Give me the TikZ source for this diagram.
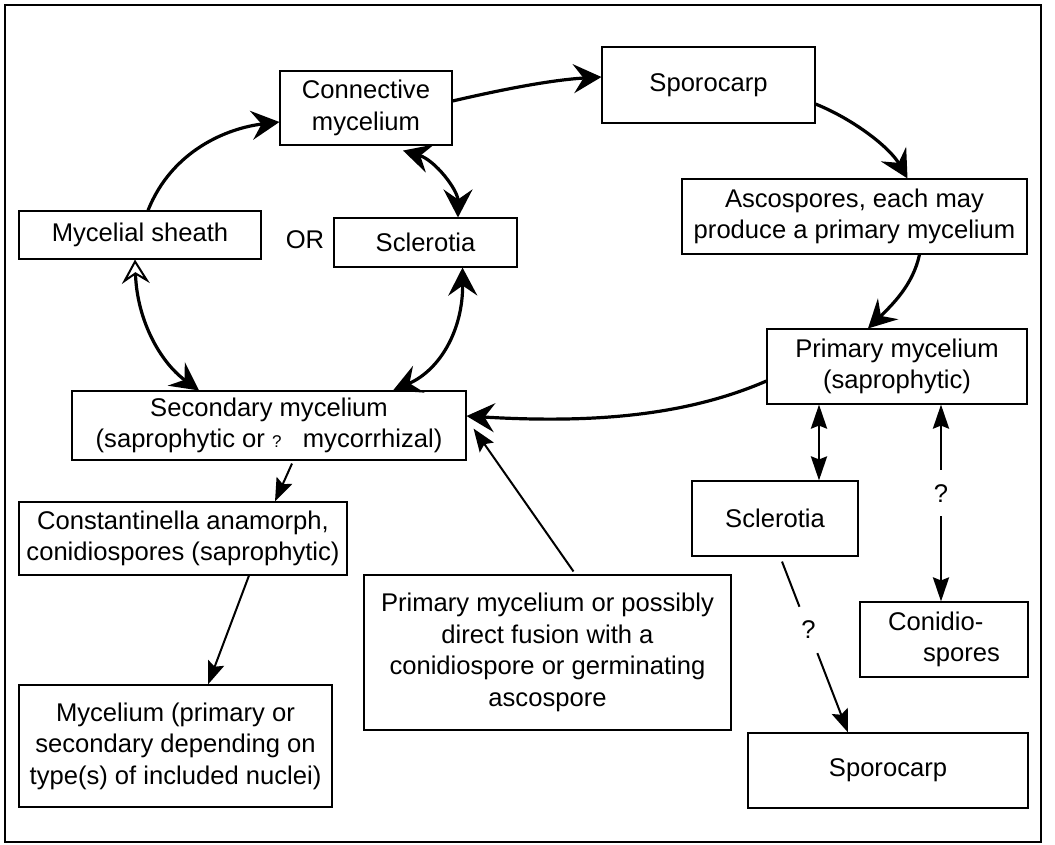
\documentclass[tikz,border=0pt]{standalone}
\usepackage{fontspec}
\setmainfont{Liberation Sans}
\usetikzlibrary{arrows.meta,calc}
\tikzset{
  box/.style={draw, line width=1.1pt, inner sep=0pt, align=center,
    font=\fontsize{25.6}{31.5}\selectfont},
  lbl/.style={inner sep=0pt, font=\fontsize{25.6}{31.5}\selectfont},
  qmark/.style={inner sep=0pt, minimum height=46pt, minimum width=20pt,
    font=\fontsize{25.6}{31.5}\selectfont},
  thick arrow/.style={line width=3.2pt},
  mid arrow/.style={line width=2.8pt},
  thin arrow/.style={line width=2pt},
  bigend/.style={-{Stealth[length=28pt,width=29pt,inset=10pt]}},
  bigboth/.style={{Stealth[length=28pt,width=29pt,inset=10pt]}-{Stealth[length=28pt,width=29pt,inset=10pt]}},
  openboth/.style={{Stealth[open,length=24pt,width=28pt,inset=9pt,line width=2pt]}-{Stealth[length=28pt,width=29pt,inset=10pt]}},
  midend/.style={-{Stealth[length=24pt,width=16pt,inset=3pt]}},
  midboth/.style={{Stealth[length=24pt,width=16pt,inset=3pt]}-{Stealth[length=24pt,width=16pt,inset=3pt]}},
  thinend/.style={-{Stealth[length=23pt,width=17pt,inset=4pt]}},
}
\begin{document}
\begin{tikzpicture}[x=1pt,y=-1pt]
\useasboundingbox (0,0) rectangle (1055,844);
\draw[line width=2pt] (5,5) rectangle (1041,842);

% boxes
\node[box, minimum width=172pt, minimum height=74pt] (conn) at (366,108) {Connective\\mycelium};
\node[box, minimum width=213pt, minimum height=76pt] (spor1) at (708.5,85) {Sporocarp};
\node[box, minimum width=345pt, minimum height=75pt] (asco) at (854.5,216.5) {Ascospores, each may\\produce a primary mycelium};
\node[box, minimum width=242pt, minimum height=48pt] (sheath) at (140,235) {Mycelial sheath};
\node[lbl] (or) at (305,240) {OR};
\node[box, minimum width=183pt, minimum height=49pt] (scl1) at (425.5,242.5) {Sclerotia};
\node[box, minimum width=394pt, minimum height=69pt] (sec) at (269,425.5) {Secondary mycelium\\(saprophytic or {\fontsize{17}{20}\selectfont ?}\ \ \ mycorrhizal)};
\node[box, minimum width=260pt, minimum height=75pt] (prim) at (897,366.5) {Primary mycelium\\(saprophytic)};
\node[box, minimum width=328pt, minimum height=73pt] (const) at (183,538.5) {Constantinella anamorph,\\conidiospores (saprophytic)};
\node[box, minimum width=166pt, minimum height=75pt] (scl2) at (775,518.5) {Sclerotia};
\node[box, minimum width=367pt, minimum height=155pt] (pmp) at (547.5,652.5) {Primary mycelium or possibly\\direct fusion with a\\conidiospore or germinating\\ascospore};
\node[box, minimum width=168pt, minimum height=75pt, align=left] (conid) at (944,639.5) {Conidio-\\\hspace*{35pt}spores};
\node[box, minimum width=280pt, minimum height=75pt] (spor2) at (888,770.5) {Sporocarp};
\node[box, minimum width=313pt, minimum height=122pt] (myc) at (175.5,746) {Mycelium (primary or\\secondary depending on\\type(s) of included nuclei)};

% main cycle
\draw[thick arrow, bigend] ([xshift=8pt]sheath.north) .. controls (172,150) and (228,128) .. ([yshift=-14pt]conn.west);
\draw[thick arrow, bigend] ([yshift=7pt]conn.east) .. controls (500,90) and (550,80) .. ([yshift=8pt]spor1.west);
\draw[thick arrow, bigend] ([yshift=-19pt]spor1.east) .. controls (855,120) and (890,148) .. ([xshift=53pt]asco.north);
\draw[thick arrow, bigend] ([xshift=65pt]asco.south) .. controls (913,285) and (892,305) .. ([xshift=-29pt]prim.north);
\draw[thick arrow, bigend] ([yshift=-14.5pt]prim.west) .. controls (690,414) and (600,424) .. ([yshift=9.5pt]sec.east);
\draw[thick arrow, bigboth] ([xshift=37pt,yshift=-5pt]conn.south) .. controls (435,160) and (458,190) .. ([xshift=32.5pt]scl1.north);
\draw[thick arrow, bigboth] ([xshift=37pt]scl1.south) .. controls (463,330) and (440,370) .. ([xshift=124pt]sec.north);
\draw[thick arrow, openboth] ([xshift=-5pt]sheath.south) .. controls (137,320) and (160,362) .. ([xshift=-70pt]sec.north);

% thin arrows
\draw[thin arrow, thinend] ([xshift=23pt,yshift=-3pt]sec.south) -- ([xshift=92pt]const.north);
\draw[thin arrow, thinend] ([xshift=66pt]const.south) -- ([xshift=32.5pt]myc.north);
\coordinate (ktip) at ([xshift=7pt,yshift=32pt]sec.south east);
\draw[thin arrow, thinend] ([xshift=26pt,yshift=3pt]pmp.north) -- (ktip);

% right side
\draw[mid arrow, midboth] ([xshift=-78pt]prim.south) -- ([xshift=44pt]scl2.north);
\path ([xshift=44pt]prim.south) -- ([xshift=-3pt]conid.north) node[qmark, pos=0.45] (qm) {?};
\draw[mid arrow, midend] (qm) -- ([xshift=44pt]prim.south);
\draw[mid arrow, midend] (qm) -- ([xshift=-3pt]conid.north);
\path ([xshift=7pt,yshift=-5pt]scl2.south) -- ([xshift=-40pt]spor2.north) node[qmark, pos=0.4] (qn) {?};
\draw[thin arrow] ([xshift=7pt,yshift=-5pt]scl2.south) -- (qn);
\draw[thin arrow, thinend] (qn) -- ([xshift=-40pt]spor2.north);
\end{tikzpicture}
\end{document}
